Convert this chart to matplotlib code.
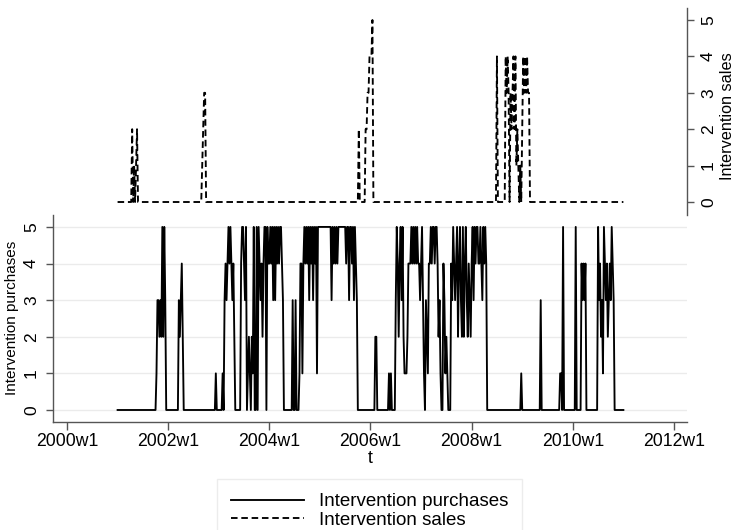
import numpy as np
import matplotlib
matplotlib.use("Agg")
import matplotlib.pyplot as plt

plt.rcParams['font.family'] = ['Liberation Sans', 'DejaVu Sans']

# weekly values, one string per year (52 weeks, 2001w1 .. 2010w52), plus 2011w1
purchases_by_year = [
    "0000000000" "0000000000" "0000000000" "0000000000" "1332325253" "00",
    "0000000000" "0323420000" "0000000000" "0000000000" "0000000001" "00",
    "000010" "343454543420" "00000" "455435" "012102150050" "54342455054",
    "454535354545543" "000000000" "300300" "0144145454535453545155",
    "555555555555" "3545454" "55555555" "455355453543" "0000000000000",
    "00000" "220" "00000000000" "1010" "000" "3542453521" "1124445454" "545443",
    "4531032144" "5455455423" "1004312100" "0435434524" "5325245324" "32",
    "4535455445" "4354540000" "0000000000" "0000000000" "0000000000" "01",
    "0000000000" "0000000003" "0000000000" "0000000001" "1050000000" "00",
    "0005000004" "3434000000" "0000005342" "3154342343" "5430000000" "00",
]
purchases_last = "0"

sales_by_year = [
    "0000000000" "0000020101" "2000000000" "0000000000" "0000000000" "00",
    "0000000000" "0000000000" "0000000000" "0000012330" "0000000000" "00",
    "0000000000" "0000000000" "0000000000" "0000000000" "0000000000" "00",
    "0000000000" "0000000000" "0000000000" "0000000000" "0000000000" "00",
    "0000000000" "0000000000" "0000000000" "0000000000" "2000000223" "34",
    "4450000000" "0000000000" "0000000000" "0000000000" "0000000000" "00",
    "0000000000" "0000000000" "0000000000" "0000000000" "0000000000" "00",
    "0000000000" "0000000000" "0000004000" "0000043430" "3234241210" "10",
    "2434343300" "0000000000" "0000000000" "0000000000" "0000000000" "00",
    "0000000000" "0000000000" "0000000000" "0000000000" "0000000000" "00",
]
sales_last = "0"

first_year = 2001
tick_years = [2000, 2002, 2004, 2006, 2008, 2010, 2012]
tick_labels = [f"{y}w1" for y in tick_years]

for s in purchases_by_year + sales_by_year:
    assert len(s) == 52, (len(s), s)

purchases = np.array([int(c) for c in "".join(purchases_by_year) + purchases_last])
sales = np.array([int(c) for c in "".join(sales_by_year) + sales_last])
# x in weeks since 2000w1 (Stata: 52 weeks per year)
t = (first_year - 2000) * 52 + np.arange(len(purchases))

W, H = 734, 530
fig = plt.figure(figsize=(W / 100, H / 100), dpi=100)
ax = fig.add_axes([53 / W, (H - 422) / H, (687 - 53) / W, (422 - 8) / H])
ax2 = ax.twinx()

axis_col = '#555555'
ax.plot(t, purchases, color='black', lw=1.35, label='Intervention purchases')
ax2.plot(t, sales, color='black', lw=1.35, linestyle=(0, (3.5, 2)),
         label='Intervention sales')

# left axis (purchases) occupies lower half, right axis (sales) upper half
ax.set_ylim(-0.328, 10.98)
ax2.set_ylim(-6.044, 5.33)
ax.set_xlim(-14.4, 637.4)

ax.set_yticks(range(6))
ax2.set_yticks(range(6))
ax.set_xticks([(y - 2000) * 52 for y in tick_years])
ax.set_xticklabels(tick_labels)

ax.grid(axis='y', color='#ebebeb', lw=1)
ax.set_axisbelow(True)

for sp in ['top', 'right']:
    ax.spines[sp].set_visible(False)
for sp in ['top', 'left', 'bottom']:
    ax2.spines[sp].set_visible(False)
ax.spines['left'].set_bounds(-0.328, 5.33)
ax2.spines['right'].set_bounds(-0.357, 5.33)
for sp in [ax.spines['left'], ax.spines['bottom'], ax2.spines['right']]:
    sp.set_color(axis_col)
    sp.set_linewidth(1)

ax.tick_params(axis='x', length=6, width=1, color=axis_col, labelsize=12.7, pad=2)
ax.tick_params(axis='y', length=5, width=1, color=axis_col, labelsize=12.5,
               labelrotation=90, pad=5)
ax2.tick_params(axis='y', length=5, width=1, color=axis_col, labelsize=12.5,
                labelrotation=90, pad=5)
for lab in ax.get_yticklabels() + ax2.get_yticklabels():
    lab.set_va('center')

ax.set_xlabel('t', fontsize=12.7, labelpad=0)
fig.text(12 / W, 1 - 318 / H, 'Intervention purchases', rotation=90,
         ha='center', va='center', fontsize=11)
fig.text(728 / W, 1 - 116 / H, 'Intervention sales', rotation=90,
         ha='center', va='center', fontsize=11.7)

h1, l1 = ax.get_legend_handles_labels()
h2, l2 = ax2.get_legend_handles_labels()
leg = fig.legend(h1 + h2, l1 + l2, loc='upper center',
                 bbox_to_anchor=(369.5 / W, 1 - 479 / H), fontsize=13.5,
                 frameon=True, fancybox=False, handlelength=3.9,
                 handletextpad=0.8, labelspacing=0.08, borderpad=0.75,
                 borderaxespad=0)
leg.get_frame().set_edgecolor('#e8e8e8')
leg.get_frame().set_linewidth(1)

fig.savefig('out.png', dpi=100)
